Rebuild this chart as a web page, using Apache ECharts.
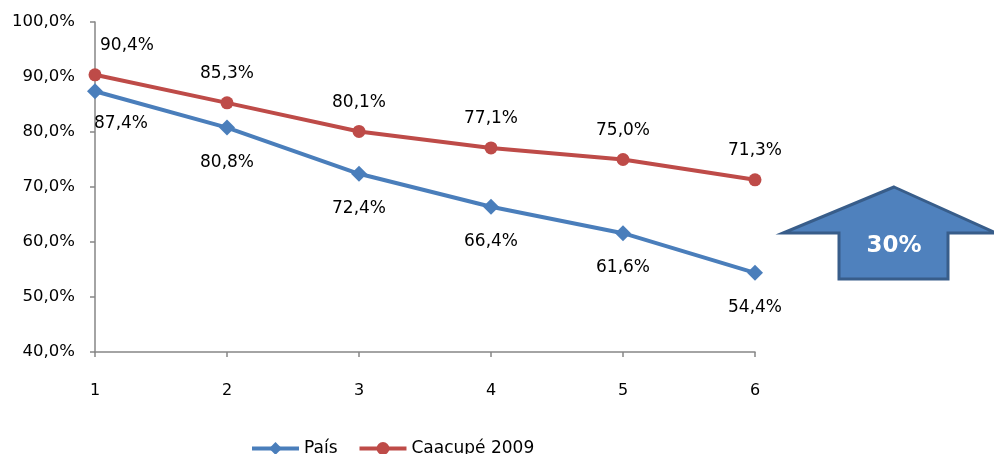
<!DOCTYPE html>
<html><head><meta charset="utf-8">
<script src="https://cdn.jsdelivr.net/npm/echarts@6/dist/echarts.min.js"></script>
<style>html,body{margin:0;padding:0;background:#fff}#c{width:994px;height:454px}</style>
</head><body><div id="c"></div>
<script>
var categories = ['1','2','3','4','5','6'];
var pais = [87.4, 80.8, 72.4, 66.4, 61.6, 54.4];
var caacupe = [90.4, 85.3, 80.1, 77.1, 75.0, 71.3];
var seriesNames = ['País', 'Caacupé 2009'];
var arrowText = '30%';

function fmt(v){ return v.toFixed(1).replace('.', ',') + '%'; }
var FONT = 'DejaVu Sans';

var chart = echarts.init(document.getElementById('c'));
chart.setOption({
  animation: false,
  textStyle: {fontFamily: FONT},
  grid: {left: 95, right: 239, top: 22, bottom: 102},
  legend: {
    left: 245, top: 435, itemWidth: 47, itemHeight: 16, itemGap: 20,
    lineStyle: {width: 4},
    textStyle: {fontFamily: FONT, fontSize: 17, color: '#000'},
    data: seriesNames
  },
  xAxis: {
    type: 'category', data: categories, boundaryGap: false,
    axisLine: {lineStyle: {color: '#868686', width: 1.5}},
    axisTick: {show: true, length: 5, lineStyle: {color: '#868686', width: 1.5}},
    axisLabel: {color: '#000', fontSize: 16, fontFamily: FONT, margin: 31}
  },
  yAxis: {
    type: 'value', min: 40, max: 100, interval: 10,
    axisLine: {show: true, lineStyle: {color: '#868686', width: 1.5}},
    axisTick: {show: true, length: 5, lineStyle: {color: '#868686', width: 1.5}},
    splitLine: {show: false},
    axisLabel: {color: '#000', fontSize: 16.5, fontFamily: FONT, margin: 20, formatter: function(v){ return fmt(v); }}
  },
  series: [
    {
      name: seriesNames[0], type: 'line', data: pais.map(function(v, i){
        return i === 0 ? {value: v, label: {offset: [26, -2]}} : v;
      }),
      symbol: 'diamond', symbolSize: 16,
      lineStyle: {color: '#4A7EBB', width: 4},
      itemStyle: {color: '#4A7EBB'},
      label: {show: true, position: 'bottom', distance: 18, fontSize: 17, fontFamily: FONT, color: '#000',
        formatter: function(p){ return fmt(p.value); }},
      z: 3
    },
    {
      name: seriesNames[1], type: 'line', data: caacupe.map(function(v, i){
        return i === 0 ? {value: v, label: {offset: [32, 0]}} : v;
      }),
      symbol: 'circle', symbolSize: 13,
      lineStyle: {color: '#BE4B48', width: 4},
      itemStyle: {color: '#BE4B48'},
      label: {show: true, position: 'top', distance: 14, fontSize: 17, fontFamily: FONT, color: '#000',
        formatter: function(p){ return fmt(p.value); }},
      z: 4
    }
  ],
  graphic: [
    {
      type: 'polygon',
      shape: {points: [[894,187],[996,233],[948,233],[948,279],[839,279],[839,233],[783,233]]},
      style: {fill: '#4F81BD', stroke: '#385D8A', lineWidth: 3}
    },
    {
      type: 'text', x: 894, y: 246,
      style: {text: arrowText, fill: '#fff', font: 'bold 23px "DejaVu Sans"', align: 'center', verticalAlign: 'middle'}
    }
  ]
});
</script>
</body></html>
